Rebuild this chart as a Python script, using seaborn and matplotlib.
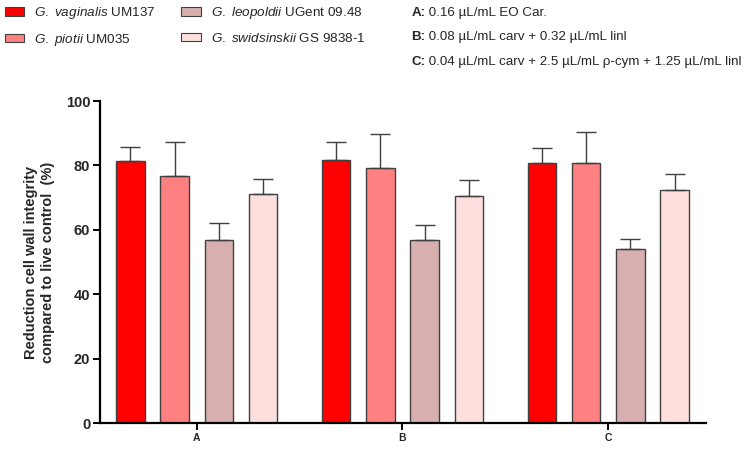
import numpy as np
import pandas as pd
import matplotlib
matplotlib.use("Agg")
import matplotlib.pyplot as plt
import seaborn as sns
from matplotlib.patches import Patch
from matplotlib.transforms import offset_copy

categories = ["A", "B", "C"]
species = ["vaginalis", "piotii", "leopoldii", "swidsinskii"]
legend_labels = [r"$\it{G.\ vaginalis}$ UM137",
                 r"$\it{G.\ piotii}$ UM035",
                 r"$\it{G.\ leopoldii}$ UGent 09.48",
                 r"$\it{G.\ swidsinskii}$ GS 9838-1"]
vaginalis = [81.5, 81.6, 80.9]
piotii = [76.8, 79.1, 80.9]
leopoldii = [56.8, 56.7, 53.9]
swidsinskii = [71.1, 70.6, 72.4]
err_vaginalis = [4.3, 5.8, 4.4]
err_piotii = [10.4, 10.6, 9.5]
err_leopoldii = [5.2, 4.7, 3.3]
err_swidsinskii = [4.7, 4.9, 4.8]
colors = ["#FF0000", "#FF8080", "#D8AFAF", "#FFDEDE"]
annotations = [("A:", " 0.16 µL/mL EO Car."),
               ("B:", " 0.08 µL/mL carv + 0.32 µL/mL linl"),
               ("C:", " 0.04 µL/mL carv + 2.5 µL/mL ρ-cym + 1.25 µL/mL linl")]

values = [vaginalis, piotii, leopoldii, swidsinskii]
errors = [err_vaginalis, err_piotii, err_leopoldii, err_swidsinskii]
rows = []
for s, vals, errs in zip(species, values, errors):
    for c, v, e in zip(categories, vals, errs):
        rows.append({"cat": c, "species": s, "value": v, "err": e})
df = pd.DataFrame(rows)

sns.set_style("ticks")
plt.rcParams["font.family"] = ["Liberation Sans", "DejaVu Sans"]
plt.rcParams["mathtext.fontset"] = "custom"
plt.rcParams["mathtext.it"] = "Liberation Sans:italic"
plt.rcParams["mathtext.rm"] = "Liberation Sans"
plt.rcParams["mathtext.bf"] = "Liberation Sans:bold"

fig = plt.figure(figsize=(7.49, 4.49), dpi=100)
ax = fig.add_axes([0.1335, 0.0579, 0.8091, 0.7171])

sns.barplot(data=df, x="cat", y="value", hue="species", order=categories,
            hue_order=species, palette=colors, saturation=1, width=0.86,
            gap=0.36, errorbar=None, edgecolor="#404040", linewidth=1.0,
            legend=False, ax=ax)

for cont, errs in zip(ax.containers, errors):
    xs = [p.get_x() + p.get_width() / 2 for p in cont]
    ys = [p.get_height() for p in cont]
    ax.errorbar(xs, ys, yerr=[np.zeros(len(errs)), errs], fmt="none",
                ecolor="#404040", elinewidth=1.0, capsize=7, capthick=1.0,
                zorder=1)

ax.set_ylim(0, 100)
ax.set_xlim(-0.47, 2.475)
ax.set_yticks([0, 20, 40, 60, 80, 100])
ax.set_xlabel("")
ax.set_ylabel("Reduction cell wall integrity\ncompared to live control  (%)",
              fontsize=10.5, fontweight="bold", labelpad=8)
for lab in ax.get_yticklabels():
    lab.set_fontweight("bold")
    lab.set_fontsize(10.5)
for lab in ax.get_xticklabels():
    lab.set_fontweight("bold")
    lab.set_fontsize(7.5)
sns.despine(ax=ax)
for sp in ["left", "bottom"]:
    ax.spines[sp].set_linewidth(1.6)
    ax.spines[sp].set_color("black")
ax.tick_params(axis="both", width=1.4, length=5, color="black", pad=2)

handles = [Patch(facecolor=c, edgecolor="#404040", linewidth=0.8) for c in colors]
fig.legend(handles, legend_labels,
           ncol=2, loc="upper left", bbox_to_anchor=(-0.01, 1.015),
           frameon=False, fontsize=9.7, handlelength=1.45, handleheight=0.6,
           handletextpad=0.75, columnspacing=1.9, labelspacing=0.78,
           borderpad=0.4)

ys = [0.972, 0.918, 0.862]
fig.canvas.draw()
renderer = fig.canvas.get_renderer()
for (b, t), y in zip(annotations, ys):
    bt = fig.text(0.549, y, b, fontsize=9.6, fontweight="bold",
                  va="center", ha="left")
    w = bt.get_window_extent(renderer).width
    tr = offset_copy(fig.transFigure, fig=fig, x=w, y=0, units="dots")
    fig.text(0.549, y, t, fontsize=9.6, va="center", ha="left", transform=tr)

fig.savefig("out.png", dpi=100)
